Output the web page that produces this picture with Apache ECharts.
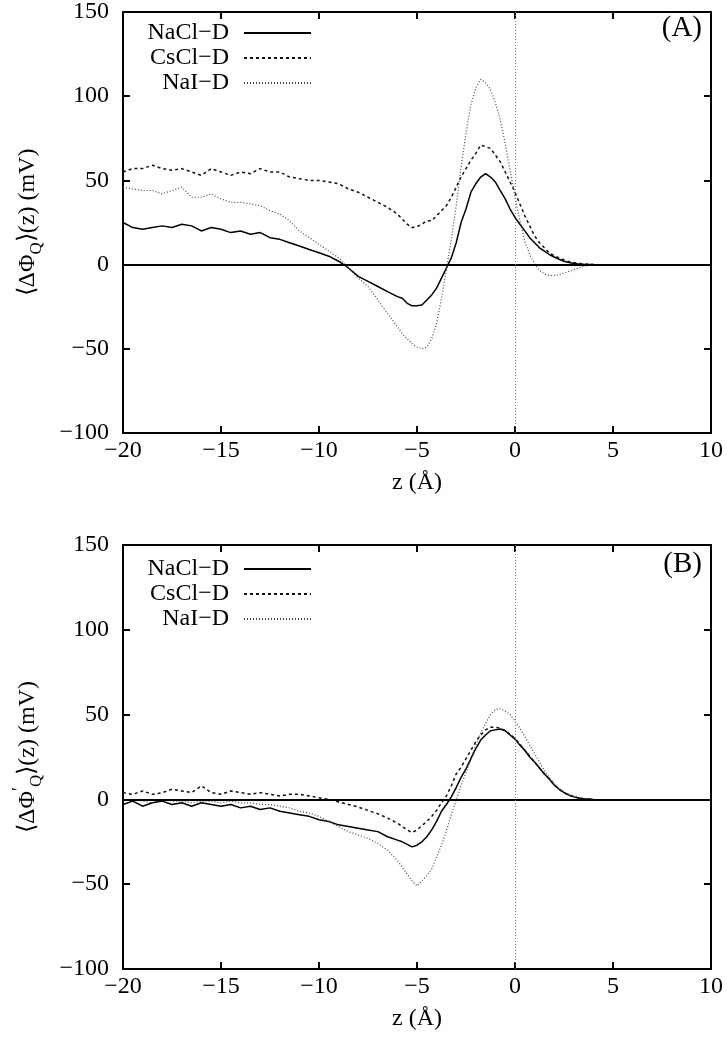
<!DOCTYPE html>
<html><head><meta charset="utf-8">
<script src="https://cdn.jsdelivr.net/npm/echarts@6/dist/echarts.min.js"></script>
<style>html,body{margin:0;padding:0;background:#fff}#c{width:727px;height:1047px}</style>
</head><body><div id="c"></div>
<script>
const zValues = [-20,-19.5,-19,-18.5,-18,-17.5,-17,-16.5,-16,-15.5,-15,-14.5,-14,-13.5,-13,-12.5,-12,-11.5,-11,-10.5,-10,-9.5,-9,-8.5,-8,-7.5,-7,-6.5,-6,
-5.75,-5.5,-5.25,-5,-4.75,-4.5,-4.25,-4,-3.75,-3.5,-3.25,-3,-2.75,-2.5,-2.25,-2,-1.75,-1.5,-1.25,-1,-0.75,-0.5,-0.25,0,0.25,0.5,0.75,1,1.25,1.5,1.75,2,2.25,2.5,2.75,3,3.25,3.5,3.75,4];

const naclA = [25,22,21,22,23,22,24,23,20,22,21,19,20,18,19,16,15,13,11,9,7,5,2,-2,-7,-10,-13,-16,-19,
-20,-23,-24.5,-24.5,-24,-21,-18,-14,-8,-2,4,13,25,33,43,48,52,54,52,49,44,39,33,28,24,20,16,13,10,8,6,4.5,3.2,2,1.2,0.7,0.4,0.2,0.1,0];
const csclA = [55,57,57,59,57,56,57,55,53,57,55,53,55,54,57,55,55,52,51,50,50,49,48,45,43,40,37,34,30,
27,24,22,22.5,24,26,26,29,32,35,40,46,52,57,62,66,71,70,69,65,61,55,49,43,36,29,23,17,13,10,7,5.2,4,2.8,1.8,1.2,0.7,0.4,0.2,0];
const naiA = [46,45,44,44,42,44,46,40,40,42,39,37,37,36,35,32,30,26,20,16,12,8,4,-2,-8,-13,-21,-29,-37,
-41,-44,-47,-49,-50,-49,-44,-35,-20,-3,15,35,58,78,95,105,110,108,104,96,86,72,56,40,26,14,6,0.5,-3.5,-5.5,-6.5,-6.5,-6,-5,-4,-3,-2,-1,-0.5,0];

const naclB = [-3,-1,-4,-2,-1,-3,-2,-4,-2,-3,-4,-3,-5,-4,-6,-5,-7,-8,-9,-10,-12,-13,-15,-16,-17,-18,-19,-22,-24,
-25,-26.5,-28,-27,-25,-22,-18,-13,-7,-3,1.5,7,13,18,24,30,35,38,40.5,41,41.5,40.5,38,35.5,32,29,25,22,18.5,15,12,8.5,6,4,2.5,1.5,0.8,0.4,0.2,0];
const csclB = [4,3,5,3,4,6,5,4,8,4,3,5,4,3,4,3,2,3,3,2,1,0,-1.5,-3,-4.5,-6.5,-8.5,-11,-14,
-16,-18,-19.5,-18,-15.5,-13,-10,-6.5,-2,2,8,15,19,24,29,34,38,41,42.5,42.5,42,40.5,38.5,36,32.5,29,25.5,22,18.5,15,12,8.5,6,4,2.5,1.5,0.8,0.4,0.2,0];
const naiB = [-1,0,-1,-2,0,-1,-1,-2,-1,-1,-2,-1,-2,-2,-3,-3,-4,-5,-7,-8,-10,-13,-16,-19,-21,-23,-26,-30,-36,
-40,-44,-48,-51,-48,-45,-41,-34,-27,-18.5,-9,-0.5,8,16,24,32,39,45,50,53,53.5,52,50,46,42,37,32,27,22,17,13,9.5,6.5,4.5,3,2,1.2,0.6,0.3,0];

const seriesNames = ['NaCl\u2212D','CsCl\u2212D','NaI\u2212D'];
const xTicks = {min:-20, max:10, interval:5};
const yTicks = {min:-100, max:150, interval:50};

const FONT = '"Liberation Serif", "Times New Roman", Times, serif';
const fmt = v => String(v).replace('-', '\u2212');
const pair = arr => zValues.map((z,i)=>[z, arr[i]]);

const styles = [
  {color:'#000', width:1.5, type:'solid'},
  {color:'#111', width:1.5, type:[3,3]},
  {color:'#444', width:1.2, type:[1,2]}
];

function mkX(gi, pos, showName){
  return {
    type:'value', gridIndex:gi, position:pos, min:xTicks.min, max:xTicks.max, interval:xTicks.interval,
    axisLine:{show:true, onZero:false, lineStyle:{color:'#000', width:2}},
    axisTick:{show:true, inside:true, length:7, lineStyle:{color:'#000', width:2}},
    axisLabel:{show:showName, color:'#000', fontFamily:FONT, fontSize:24, margin:6, formatter:fmt},
    splitLine:{show:false},
    name: showName ? 'z (\u00c5)' : '', nameLocation:'middle', nameGap:38,
    nameTextStyle:{color:'#000', fontFamily:FONT, fontSize:24}
  };
}
function mkY(gi, pos, showName, name){
  return {
    type:'value', gridIndex:gi, position:pos, min:yTicks.min, max:yTicks.max, interval:yTicks.interval,
    axisLine:{show:true, onZero:false, lineStyle:{color:'#000', width:2}},
    axisTick:{show:true, inside:true, length:7, lineStyle:{color:'#000', width:2}},
    axisLabel:{show:showName, color:'#000', fontFamily:FONT, fontSize:24, margin:14, formatter:fmt},
    splitLine:{show:false},
    name: showName ? name : '', nameLocation:'middle', nameGap:78, nameRotate:90,
    nameTextStyle:{color:'#000', fontFamily:FONT, fontSize:24,
      rich:{
        a:{fontFamily:FONT, fontSize:24, color:'#000', lineHeight:34, verticalAlign:'middle'},
        s:{fontFamily:FONT, fontSize:17, color:'#000', lineHeight:34, verticalAlign:'bottom'},
        p:{fontFamily:FONT, fontSize:18, color:'#000', lineHeight:34, verticalAlign:'top'}
      }}
  };
}

function mkSeries(gi, arrs){
  return arrs.map((arr,k)=>{
    const s = {
      type:'line', name:seriesNames[k], xAxisIndex:gi*2, yAxisIndex:gi*2,
      data:pair(arr), showSymbol:false, symbol:'none', smooth:false, animation:false,
      lineStyle:{color:styles[k].color, width:styles[k].width, type:styles[k].type},
      itemStyle:{color:styles[k].color}, z:3
    };
    if(k===0){
      s.markLine = {silent:true, symbol:'none', animation:false, label:{show:false},
        data:[
          {yAxis:0, lineStyle:{color:'#000', width:2, type:'solid'}},
          {xAxis:0, lineStyle:{color:'#777', width:1, type:[1,2]}}
        ]};
    }
    return s;
  });
}

function mkLegend(gi, top){
  return {
    show:true, orient:'vertical', left:134, top:top, itemWidth:67, itemHeight:14, itemGap:1,
    align:'right', data:seriesNames, selectedMode:false,
    itemStyle:{opacity:0, borderWidth:0},
    textStyle:{fontFamily:FONT, fontSize:24, color:'#000', width:90, align:'right', lineHeight:24, padding:[0,10,0,0]}
  };
}

const chart = echarts.init(document.getElementById('c'), null, {renderer:'canvas'});
chart.setOption({
  backgroundColor:'#fff',
  animation:false,
  grid:[
    {left:123, top:9, width:588, height:424},
    {left:123, top:545, width:588, height:424}
  ],
  xAxis:[mkX(0,'bottom',true), mkX(0,'top',false), mkX(1,'bottom',true), mkX(1,'top',false)],
  yAxis:[
    mkY(0,'left',true,'{a|\u27e8\u0394\u03a6}{s|Q}{a|\u27e9(z) (mV)}'), mkY(0,'right',false,''),
    mkY(1,'left',true,'{a|\u27e8\u0394\u03a6}{p|\u2032}{s|Q}{a|\u27e9(z) (mV)}'), mkY(1,'right',false,'')
  ],
  legend:[mkLegend(0,16), mkLegend(1,552)],
  series:[].concat(mkSeries(0,[naclA,csclA,naiA]), mkSeries(1,[naclB,csclB,naiB])),
  graphic:[
    {type:'text', x:702, y:28, style:{text:'(A)', fontFamily:FONT, fontSize:29, fill:'#000', textAlign:'right', textVerticalAlign:'middle'}},
    {type:'text', x:702, y:564, style:{text:'(B)', fontFamily:FONT, fontSize:29, fill:'#000', textAlign:'right', textVerticalAlign:'middle'}}
  ]
});
</script></body></html>
